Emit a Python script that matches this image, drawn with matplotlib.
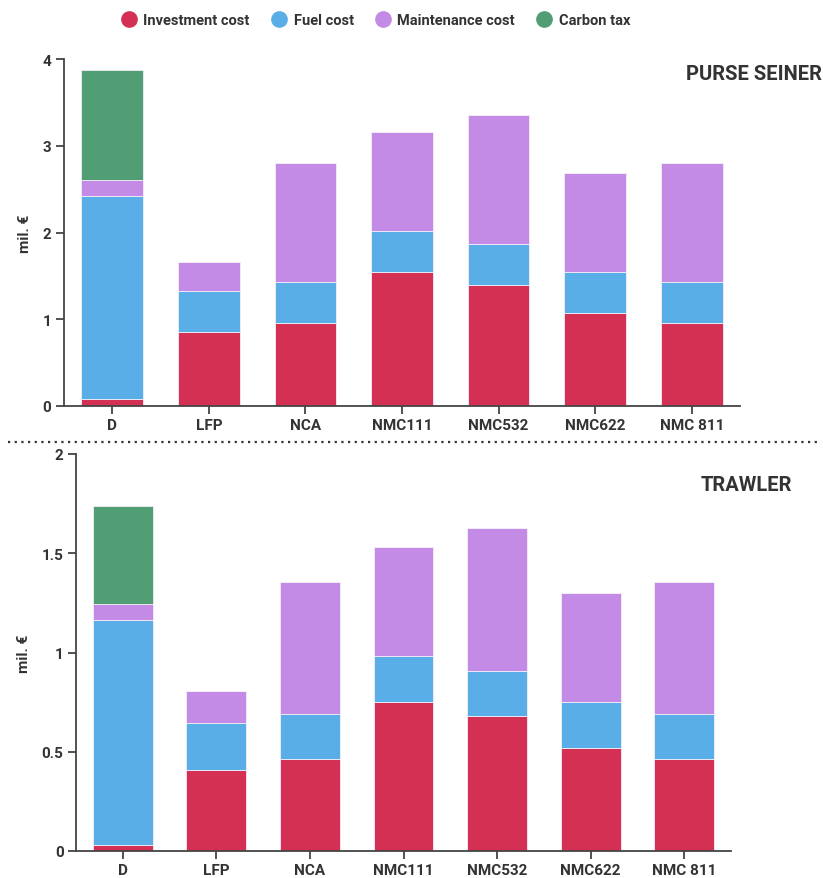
import matplotlib
matplotlib.use("Agg")
import matplotlib.pyplot as plt
from matplotlib.lines import Line2D
import numpy as np

categories = ["D", "LFP", "NCA", "NMC111", "NMC532", "NMC622", "NMC 811"]
series_names = ["Investment cost", "Fuel cost", "Maintenance cost", "Carbon tax"]
colors = ["#d33054", "#5aaee8", "#c38ae6", "#529e74"]

# Purse seiner (mil. €)
ps_investment = [0.08, 0.85, 0.96, 1.54, 1.39, 1.07, 0.96]
ps_fuel = [2.34, 0.47, 0.47, 0.48, 0.48, 0.47, 0.47]
ps_maintenance = [0.18, 0.34, 1.37, 1.14, 1.48, 1.15, 1.37]
ps_carbon = [1.27, 0, 0, 0, 0, 0, 0]

# Trawler (mil. €)
tr_investment = [0.03, 0.41, 0.465, 0.75, 0.68, 0.52, 0.465]
tr_fuel = [1.135, 0.235, 0.225, 0.23, 0.225, 0.23, 0.225]
tr_maintenance = [0.08, 0.16, 0.665, 0.55, 0.72, 0.55, 0.665]
tr_carbon = [0.495, 0, 0, 0, 0, 0, 0]

FONT = "Roboto"
TXT = "#333333"

W, H = 823, 879
fig = plt.figure(figsize=(W / 100, H / 100), dpi=100)

def ax_rect(x0, y0, x1, y1):
    return [x0 / W, 1 - y1 / H, (x1 - x0) / W, (y1 - y0) / H]

def draw(ax, series, ymax, yticks, yticklabels, title, title_x, title_y):
    x = np.arange(len(categories))
    bottom = np.zeros(len(categories))
    for vals, c in zip(series, colors):
        vals = np.array(vals, dtype=float)
        ax.bar(x, vals, width=0.64, bottom=bottom, color=c,
               edgecolor="#f3eef8", linewidth=0.6, zorder=2)
        bottom += vals
    ax.set_xlim(-0.5, 6.5)
    ax.set_ylim(0, ymax)
    ax.set_xticks(x)
    ax.set_xticklabels(categories, fontfamily=FONT, fontweight="bold",
                       fontsize=11, color=TXT)
    ax.set_yticks(yticks)
    ax.set_yticklabels(yticklabels, fontfamily=FONT, fontweight="bold",
                       fontsize=11, color=TXT)
    for s in ["top", "right"]:
        ax.spines[s].set_visible(False)
    for s in ["left", "bottom"]:
        ax.spines[s].set_color("#444444")
        ax.spines[s].set_linewidth(1.3)
    ax.tick_params(axis="both", length=6, width=1.3, color="#444444", pad=3)
    ax.set_ylabel("mil. €", fontfamily=FONT, fontweight="bold",
                  fontsize=11, color=TXT, labelpad=8)
    fig.text(title_x / W, 1 - title_y / H, title, ha="right", va="center",
             fontfamily=FONT, fontweight="bold", fontsize=14.5, color=TXT)

ax1 = fig.add_axes(ax_rect(64, 60, 740, 407))
draw(ax1, [ps_investment, ps_fuel, ps_maintenance, ps_carbon], 4,
     [0, 1, 2, 3, 4], ["0", "1", "2", "3", "4"], "PURSE SEINER", 822, 75)

ax2 = fig.add_axes(ax_rect(76, 455, 731, 852))
draw(ax2, [tr_investment, tr_fuel, tr_maintenance, tr_carbon], 2,
     [0, 0.5, 1, 1.5, 2], ["0", "0.5", "1", "1.5", "2"], "TRAWLER", 792, 486)

# dotted separator
fig.add_artist(Line2D([8 / W, 820 / W], [1 - 443 / H, 1 - 443 / H],
                      transform=fig.transFigure, color="#333333",
                      linestyle=(0, (1, 2)), linewidth=1.6))

handles = [Line2D([0], [0], marker="o", linestyle="", markersize=11,
                  markerfacecolor=c, markeredgecolor=c) for c in colors]
leg = fig.legend(handles, series_names, loc="center", ncol=4,
                 bbox_to_anchor=(373 / W, 1 - 21 / H), frameon=False,
                 handletextpad=0.1, columnspacing=1.1, handlelength=1.8,
                 prop={"family": FONT, "weight": "bold", "size": 10.5})
for t in leg.get_texts():
    t.set_color(TXT)

fig.savefig("out.png", dpi=100)
